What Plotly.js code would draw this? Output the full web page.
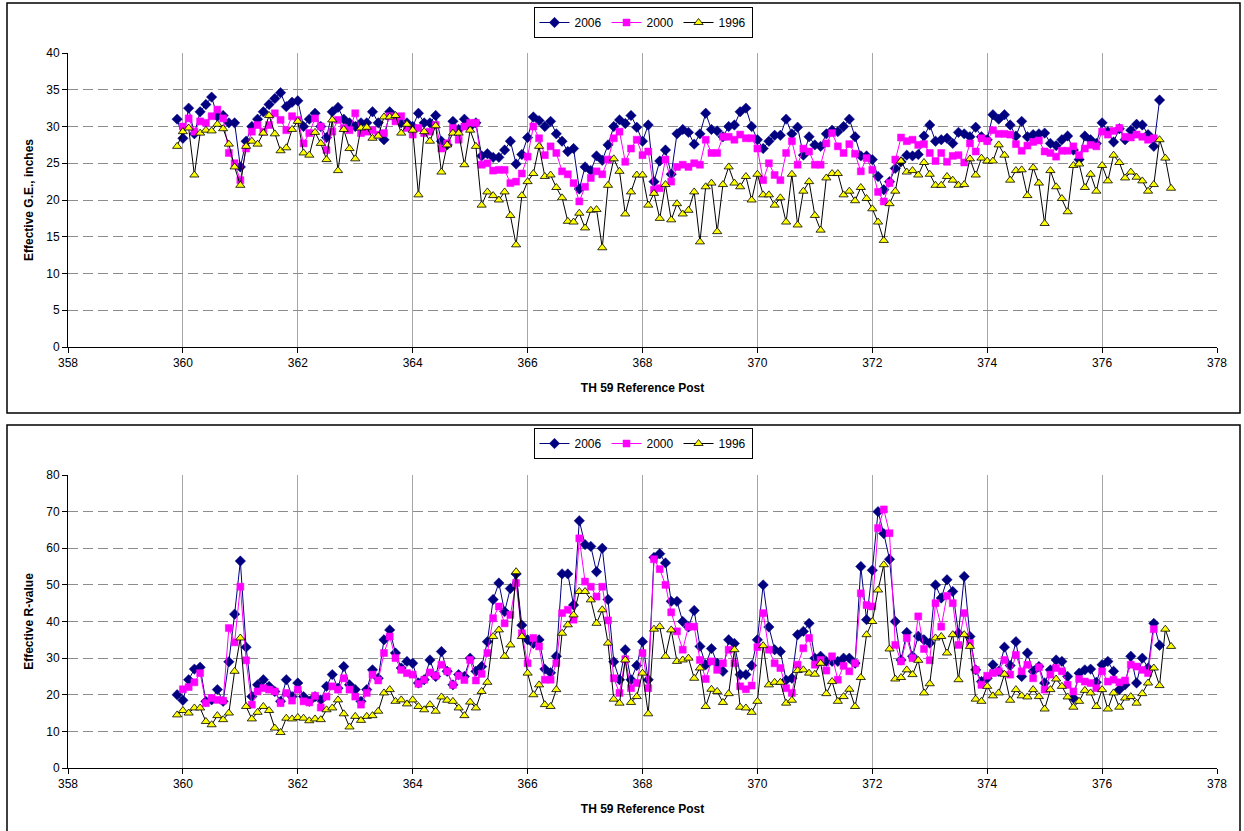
<!DOCTYPE html>
<html>
<head>
<meta charset="utf-8">
<script src="https://cdn.plot.ly/plotly-3.0.1.min.js"></script>
<style>
html,body{margin:0;padding:0;background:#fff;}
#chart{width:1244px;height:831px;}
</style>
</head>
<body>
<div id="chart"></div>
<script>
// TH 59 reference posts (shared x positions)
const posts = [
359.9,360.0,360.1,360.2,360.3,360.4,360.5,360.6,360.7,360.8,
360.9,361.0,361.1,361.2,361.3,361.4,361.5,361.6,361.7,361.8,
361.9,362.0,362.1,362.2,362.3,362.4,362.5,362.6,362.7,362.8,
362.9,363.0,363.1,363.2,363.3,363.4,363.5,363.6,363.7,363.8,
363.9,364.0,364.1,364.2,364.3,364.4,364.5,364.6,364.7,364.8,
364.9,365.0,365.1,365.2,365.3,365.4,365.5,365.6,365.7,365.8,
365.9,366.0,366.1,366.2,366.3,366.4,366.5,366.6,366.7,366.8,
366.9,367.0,367.1,367.2,367.3,367.4,367.5,367.6,367.7,367.8,
367.9,368.0,368.1,368.2,368.3,368.4,368.5,368.6,368.7,368.8,
368.9,369.0,369.1,369.2,369.3,369.4,369.5,369.6,369.7,369.8,
369.9,370.0,370.1,370.2,370.3,370.4,370.5,370.6,370.7,370.8,
370.9,371.0,371.1,371.2,371.3,371.4,371.5,371.6,371.7,371.8,
371.9,372.0,372.1,372.2,372.3,372.4,372.5,372.6,372.7,372.8,
372.9,373.0,373.1,373.2,373.3,373.4,373.5,373.6,373.7,373.8,
373.9,374.0,374.1,374.2,374.3,374.4,374.5,374.6,374.7,374.8,
374.9,375.0,375.1,375.2,375.3,375.4,375.5,375.6,375.7,375.8,
375.9,376.0,376.1,376.2,376.3,376.4,376.5,376.6,376.7,376.8,
376.9,377.0,377.1,377.2];

// Effective G.E., inches
const ge2006 = [
31,28.4,32.5,29,32,33,34,31.4,31.5,30.5,
30.5,24.5,28,30,31,32,33,33.8,34.6,32.7,
33.3,33.5,30,31,31.8,30,28.5,32,32.6,31,
30.5,30,30.5,30.5,32,30.5,28.2,32,31.3,30.5,
30.5,30,31.8,30.5,30.5,31.5,28,27.5,30.7,29.6,
31,30,30.5,26,26.3,25.8,25.8,26.8,28,24.9,
26.2,28.5,31.3,30.8,30,30.7,29,28,26.6,27,
21.5,24.5,24,26,25.4,27.5,30,30.9,30.4,31.5,
29.9,28,30.2,22.5,25.3,26.8,23.5,29,29.6,29.2,
27.6,29,31.8,29.6,29.4,28.6,30,30.2,32,32.5,
30,28.2,27,28,28.8,28.8,31,29,29.9,26.1,
28.6,27.5,27.3,29,29.5,29.3,30,31,28.6,26,
26,25.5,23.2,21.4,22.5,24.3,25.2,26.1,26,26.2,
28.7,30.2,28,28.2,28.4,27.7,29.2,29,28.6,29.9,
28.6,28.2,31.6,31,31.6,30.2,28.7,30.7,28.6,28.9,
29,29.1,27.7,27.4,28.2,28.7,26.8,25.5,28.7,28.2,
27.7,30.5,29.3,27.9,29.7,28.2,29.5,30.3,30.2,28.9,
27.3,33.6,null,null];

const ge2000 = [
null,30,31.1,29.3,30.7,30.5,31.4,32.3,31.1,26.4,
25,22.7,27,29.3,30.2,29.3,30.2,31.8,30.9,29.5,
31.4,30.9,27.7,29.1,31.1,30,26.8,29.3,30.9,29.8,
29.5,31.8,29.1,29.3,29.5,28.9,29.1,31.4,30.7,31.4,
29.8,28.9,29.8,29.1,29.3,30.2,27,27.7,29.8,28.2,
30,30.5,30.5,24.8,25,24,24.1,24.1,22.3,22.5,
23.6,25.9,30,28.4,26.1,27.3,26.4,23.9,23.5,22.3,
19.8,21.8,23,23.9,23.5,25.5,28.4,29.3,25.2,27,
28.2,26.1,26.6,21.4,21.6,25.5,22.5,24.5,24.8,24.5,
25,24.8,28.2,26.4,26.4,28.6,28.6,28.2,28.9,28.4,
28.4,27,22.7,25,23.4,22.7,26.4,28,24.8,27,
26.6,24.8,24.8,27.7,29.1,27.3,26.4,27.6,26.3,23.9,
25.7,24.1,21.1,19.8,22.3,25.5,28.5,28,28.2,27.5,
27.6,26.4,25.3,26.4,25.2,26,26.1,25.1,27.7,26.6,
28.4,28,29.5,29,29,28.9,27.6,26.7,27.4,27.9,
28.1,26.6,26.4,25.9,26.7,26.7,27.3,26.1,27,27.5,
27.3,29.3,28.9,29.4,29.8,28.6,28.5,28.9,28.6,28.2,
28.4,null,null,null];

const ge1996 = [
27.3,29.3,29.8,23.4,29.1,29.5,29.4,30.3,29.7,27.6,
24.5,22,27.3,28,27.6,29.1,31.5,29,26.7,27.1,
29.6,30.7,26.4,26.1,29.2,27.7,25.5,30.9,24,29.6,
27,25.6,29.8,29.9,28.4,28.7,31.3,31.3,31.5,29.1,
30.3,29.5,20.7,29.3,28,30.1,23.8,27.5,29.1,29.1,
24.8,29.5,27.3,19.3,21.1,20.6,20,21.1,17.9,13.9,
20.6,22.5,23.6,27.3,23.2,23.4,21.7,20.3,17.1,17,
18.2,16.2,18.6,18.7,13.5,22,25.6,23.9,18.1,21.1,
23.4,23.4,19.3,20.9,17.5,22.1,17.3,19.5,18.1,18.6,
21.1,14.3,21.8,22.3,15.7,22.1,24.5,22.3,21.8,23.2,
20,23.5,20.7,20.7,19.3,20.3,17,23.5,16.6,21.2,
22.5,17.9,15.9,23,23.6,23.6,20.7,21.2,19.9,21.7,
20.2,18.8,17,14.5,19.5,21.2,25.3,23.8,24,23.4,
25.1,23.5,22,22,23.2,22.7,22,22.1,25.6,23.4,
25.7,25.3,25.3,27.5,26.1,22.7,24,24.1,20.6,24.4,
22.3,16.8,24,21.8,20.2,18.4,24.7,24.9,21.7,23.5,
21.2,24.7,22.6,26.1,25.1,23,23.8,23.1,22.6,21.2,
22.1,28.2,25.7,21.6];

// Effective R-value
const r2006 = [
20,18.5,24.1,27,27.5,18.2,18.6,21.4,18.2,29,
42,56.5,33,19.5,22.7,24.1,22.3,20.9,18.2,24.1,
19.5,23.2,19.5,18.2,19.5,18.6,22.3,25.5,21.8,27.7,
22.7,21.4,18.2,21.4,26.8,24.5,35,37.7,31.4,27.3,
29.1,28.6,23.2,24.1,29.5,25,31.8,26.4,22.7,25.5,
25,30,26.4,27.7,34.5,46,50.5,42.7,49,53,
39,35,34,35,27,26,30.5,53,53,44.5,
67.5,61,60.5,53.6,60,46,29,24.1,32.3,24.1,
28,34.5,24.1,57.5,58.5,56,45.5,45.5,40,38.5,
43,33.2,28.2,32.6,28.6,26.4,35,34,25.5,25.5,
28,35,50,38.5,32.3,31.8,24,24.5,36.4,37.3,
39.5,30,30.5,29.1,29.1,29.1,30,30,28.6,55,
40.5,54,70,64,57,40,29.5,37,30.5,36,
35,34.1,50,46.4,51.4,48.2,36.8,52.3,35.9,26.8,
23.6,24.5,28.2,26.4,33,28,34.5,25,31.4,26.4,
27.7,23.2,26.8,29.5,29.1,25,19.1,25.9,26.8,27,
23.4,28.2,29.1,26.4,21.4,22.7,30.5,23.2,30,27.3,
39.5,33.5,null,null];

const r2000 = [
null,21.5,22.1,23.4,25.9,17.7,19.1,18.6,18.4,38.2,
34.3,49.5,29.4,17.3,20.9,21.8,21.4,20.9,17.7,20.5,
18.4,21.4,18.2,17.9,19.7,16.5,19.5,22.3,21.4,24.5,
21.4,19.5,17.3,20.5,25.5,23.9,31.4,35.9,30,26.8,
25.9,25.5,23,24.1,26.1,25.2,28.2,26.4,22.7,25.2,
24,29.5,23.9,25.7,31.4,40.9,44.1,39.5,41.8,50.5,
36.8,28.6,35.5,33.2,24.1,24.1,28.6,42.3,43.2,40.5,
62.7,50.9,49.5,46.8,49.5,40.3,24.5,20.5,29.7,21.8,
23.2,31.4,21.8,57,54.3,50,42.5,37.3,32.3,38.6,
38.6,29.5,24.3,29.1,26.8,28.6,32.3,28.6,22.3,21.5,
22.5,33,42.3,32.3,28.6,27.3,21.8,20.5,28.2,32.7,
35.5,28.2,29.5,26.6,30.5,24.1,27.9,26.4,28.6,47.7,
44.5,44.1,65.5,70.6,64.1,33.6,29.1,35.5,30,41.4,
32.5,29.4,45,38.6,47,45,33.6,42.3,34.1,26.8,
22.7,25.2,25.9,26.4,29.5,25.5,30.9,26.4,28.2,24.5,
27.5,21.4,25.5,27.3,26.4,22.7,20.9,24.3,23.6,23.2,
21.8,26.4,23.6,24.1,23.4,23.9,28.2,27.7,26.8,25.9,
37.9,null,null,null];

const r1996 = [
14.5,15.7,15,16.4,16.4,12.7,11.8,14.3,13.2,15,
26.4,35.5,16.8,13.4,15.2,16.8,15.7,10.9,9.7,13.6,
13.4,13.8,13.6,12.9,13.4,13.2,15.9,16.4,18.6,14.8,
11.2,14.1,13,14.1,14.3,15.5,20.5,21.4,18.2,18.6,
17.5,18.6,16.8,15.9,17.3,15.5,19.4,18.5,18.2,16.4,
14.3,18,16.4,20.9,23.4,35.9,37.7,30.5,33.6,53.6,
35.9,25.9,20,22.7,17.3,16.8,21.4,36.8,39.1,41.8,
48.2,48.2,45.9,39.5,43.2,34.1,18.8,17.7,29.5,17.9,
19.5,25.9,14.8,37.9,38.6,30.5,37.7,29.1,29.5,30,
24.5,27.3,16.8,21.5,20.9,17.9,20.3,32.3,16.6,16.4,
15.2,18.2,33.4,22.7,23.4,23.4,17.7,18.5,26.6,26.8,
25.9,25.6,28.6,20.3,23.6,18.2,19.5,21.5,16.8,24.7,
36.4,40,48.6,55.5,32.5,24.3,24.7,26.8,25.5,29.4,
20.5,23,35.5,35.9,31.4,36.4,24.1,36.4,33.2,18.8,
18.2,22.3,19.7,20.5,25.6,18.5,21.4,19.7,19.4,21.4,
19.5,16.1,21.4,24.3,22.3,19.4,16.6,18.2,21.2,20.5,
16.8,21.4,16.1,20.5,16.6,19.1,19.5,17.7,20.3,23.2,
27.3,22.5,37.9,33.2];

const seriesNames = ['2006','2000','1996'];
const xTicks = [358,360,362,364,366,368,370,372,374,376,378];

const W = 1244, H = 831;
const FONT = 'Liberation Sans, Arial, sans-serif';

const styles = [
  {line:{color:'#000080',width:1}, marker:{symbol:'diamond',size:8,color:'#000080',line:{color:'#000080',width:0.5}}},
  {line:{color:'#FF00FF',width:1}, marker:{symbol:'square',size:7,color:'#FF00FF',line:{color:'#FF00FF',width:0.5}}},
  {line:{color:'#000000',width:1}, marker:{symbol:'triangle-up',size:8,color:'#FFFF00',line:{color:'#000000',width:0.8}}}
];

function mk(y, i, yaxis, legend) {
  return {
    x: posts, y: y, name: seriesNames[i], type: 'scatter', mode: 'lines+markers',
    line: styles[i].line, marker: styles[i].marker, xaxis: yaxis === 'y' ? 'x' : 'x2', yaxis: yaxis,
    legend: legend, connectgaps: false, cliponaxis: false
  };
}

const traces = [
  mk(ge2006,0,'y','legend'), mk(ge2000,1,'y','legend'), mk(ge1996,2,'y','legend'),
  mk(r2006,0,'y2','legend2'), mk(r2000,1,'y2','legend2'), mk(r1996,2,'y2','legend2')
];

function py(p){ return 1 - p / H; }
function pxf(p){ return p / W; }

const xCommon = {
  range:[358,378], tickvals: xTicks, ticktext: xTicks.map(String),
  showline:true, linecolor:'#000', linewidth:1, ticks:'outside', ticklen:5, tickcolor:'#000',
  showgrid:true, gridcolor:'#A6A6A6', gridwidth:1, zeroline:false,
  tickfont:{family:FONT,size:12,color:'#000'}, fixedrange:true
};
const yCommon = {
  showline:true, linecolor:'#000', linewidth:1, ticks:'outside', ticklen:5, tickcolor:'#000',
  showgrid:true, gridcolor:'#8C8C8C', gridwidth:1, griddash:'10px,5px', zeroline:false,
  tickfont:{family:FONT,size:12,color:'#000'}, fixedrange:true
};

const layout = {
  width: W, height: H,
  margin:{l:0,r:0,t:0,b:0},
  paper_bgcolor:'#fff', plot_bgcolor:'#fff',
  font:{family:FONT,size:12,color:'#000'},
  showlegend:true,
  xaxis: Object.assign({}, xCommon, {domain:[pxf(68),pxf(1217)], anchor:'y',
    title:{text:'TH 59 Reference Post', font:{family:FONT,size:12,color:'#000',weight:'bold'}, standoff:14}}),
  yaxis: Object.assign({}, yCommon, {domain:[py(347),py(53)], anchor:'x', range:[0,40], dtick:5,
    title:{text:'Effective G.E., inches', font:{family:FONT,size:12,color:'#000',weight:'bold'}, standoff:10}}),
  xaxis2: Object.assign({}, xCommon, {domain:[pxf(68),pxf(1217)], anchor:'y2',
    title:{text:'TH 59 Reference Post', font:{family:FONT,size:12,color:'#000',weight:'bold'}, standoff:14}}),
  yaxis2: Object.assign({}, yCommon, {domain:[py(768),py(475)], anchor:'x2', range:[0,80], dtick:10,
    title:{text:'Effective R-value', font:{family:FONT,size:12,color:'#000',weight:'bold'}, standoff:10}}),
  legend:{orientation:'h', x:pxf(643), xanchor:'center', y:py(7), yanchor:'top',
    bordercolor:'#000', borderwidth:1, bgcolor:'#fff', font:{family:FONT,size:12,color:'#000'},
    itemwidth:30, tracegroupgap:0},
  legend2:{orientation:'h', x:pxf(643), xanchor:'center', y:py(428), yanchor:'top',
    bordercolor:'#000', borderwidth:1, bgcolor:'#fff', font:{family:FONT,size:12,color:'#000'},
    itemwidth:30, tracegroupgap:0},
  shapes:[
    {type:'rect', xref:'paper', yref:'paper', x0:pxf(7), x1:pxf(1240), y0:py(413), y1:py(3), line:{color:'#000',width:1.5}, layer:'below'},
    {type:'rect', xref:'paper', yref:'paper', x0:pxf(7), x1:pxf(1240), y0:py(845), y1:py(425), line:{color:'#000',width:1.5}, layer:'below'}
  ]
};

Plotly.newPlot('chart', traces, layout, {displayModeBar:false, staticPlot:true});
</script>
</body>
</html>
